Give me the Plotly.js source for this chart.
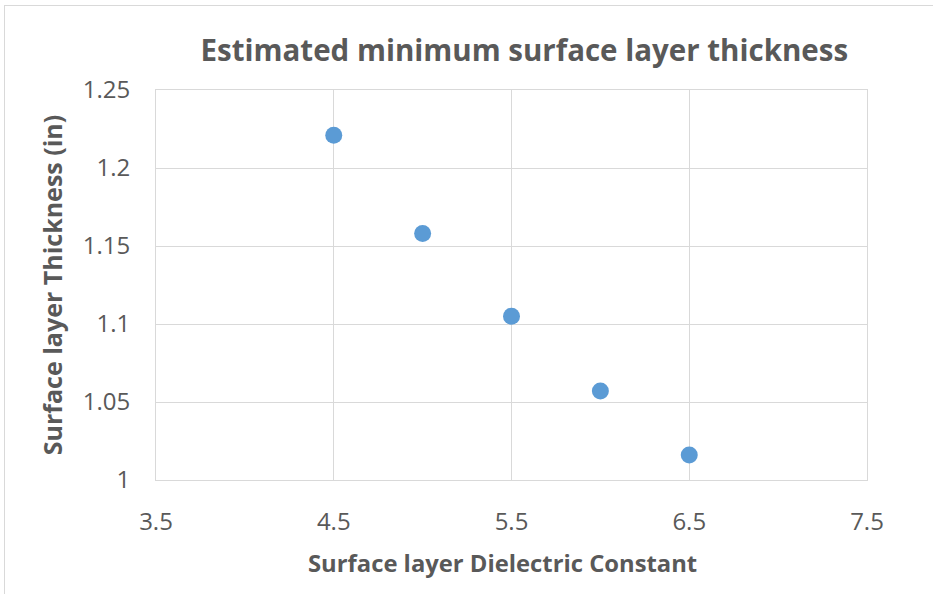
<!DOCTYPE html>
<html>
<head>
<meta charset="utf-8">
<script src="https://cdn.plot.ly/plotly-3.0.1.min.js"></script>
<style>
  html, body { margin: 0; padding: 0; background: #fff; }
  #wrap { position: relative; width: 933px; height: 594px; }
  #chart { position: absolute; left: 0; top: 0; width: 933px; height: 594px; }
  #frame { position: absolute; left: 4px; top: 5px; right: -10px; bottom: -10px;
           border-top: 1px solid #d9d9d9; border-left: 1px solid #d9d9d9; pointer-events: none; }
</style>
</head>
<body>
<div id="wrap">
  <div id="chart"></div>
  <div id="frame"></div>
</div>
<script>
const dielectric = [4.5, 5.0, 5.5, 6.0, 6.5];
const thickness = [1.221, 1.158, 1.105, 1.057, 1.016];
const xTicks = [3.5, 4.5, 5.5, 6.5, 7.5];
const yTicks = [1, 1.05, 1.1, 1.15, 1.2, 1.25];
const yTickText = ['1', '1.05', '1.1', '1.15', '1.2', '1.25'];

const fontFam = '"Open Sans", Lato, sans-serif';
const gray = '#595959';

const trace = {
  x: dielectric, y: thickness, type: 'scatter', mode: 'markers',
  marker: { color: '#5b9bd5', size: 17 },
  hoverinfo: 'x+y'
};

const layout = {
  width: 933, height: 594,
  margin: { l: 156, r: 66, t: 90, b: 114 },
  paper_bgcolor: '#ffffff', plot_bgcolor: '#ffffff',
  showlegend: false,
  title: { text: '<b>Estimated minimum surface layer thickness</b>',
           font: { family: fontFam, size: 29.5, color: gray },
           x: 0.562, xanchor: 'center', y: 0.915, yanchor: 'middle' },
  xaxis: {
    range: [3.5, 7.5], tickvals: xTicks, ticktext: xTicks.map(v => v.toFixed(1)),
    showgrid: true, gridcolor: '#d9d9d9', gridwidth: 1,
    showline: true, linecolor: '#d9d9d9', linewidth: 1, mirror: true,
    zeroline: false, ticks: 'outside', ticklen: 20, tickcolor: 'rgba(0,0,0,0)',
    tickfont: { family: fontFam, size: 24, color: gray }
  },
  yaxis: {
    range: [1, 1.25], tickvals: yTicks, ticktext: yTickText,
    showgrid: true, gridcolor: '#d9d9d9', gridwidth: 1,
    showline: true, linecolor: '#d9d9d9', linewidth: 1, mirror: true,
    zeroline: false, ticks: 'outside', ticklen: 20, tickcolor: 'rgba(0,0,0,0)',
    tickfont: { family: fontFam, size: 24, color: gray },
    title: { text: '<b>Surface layer Thickness (in)</b>',
             font: { family: fontFam, size: 25, color: gray }, standoff: 12 }
  },
  annotations: [{
    text: '<b>Surface layer Dielectric Constant</b>',
    xref: 'paper', yref: 'paper', x: 0.487, y: -0.213,
    xanchor: 'center', yanchor: 'middle', showarrow: false,
    font: { family: fontFam, size: 23.8, color: gray }
  }]
};

Plotly.newPlot('chart', [trace], layout, { displayModeBar: false, staticPlot: true });
</script>
</body>
</html>
